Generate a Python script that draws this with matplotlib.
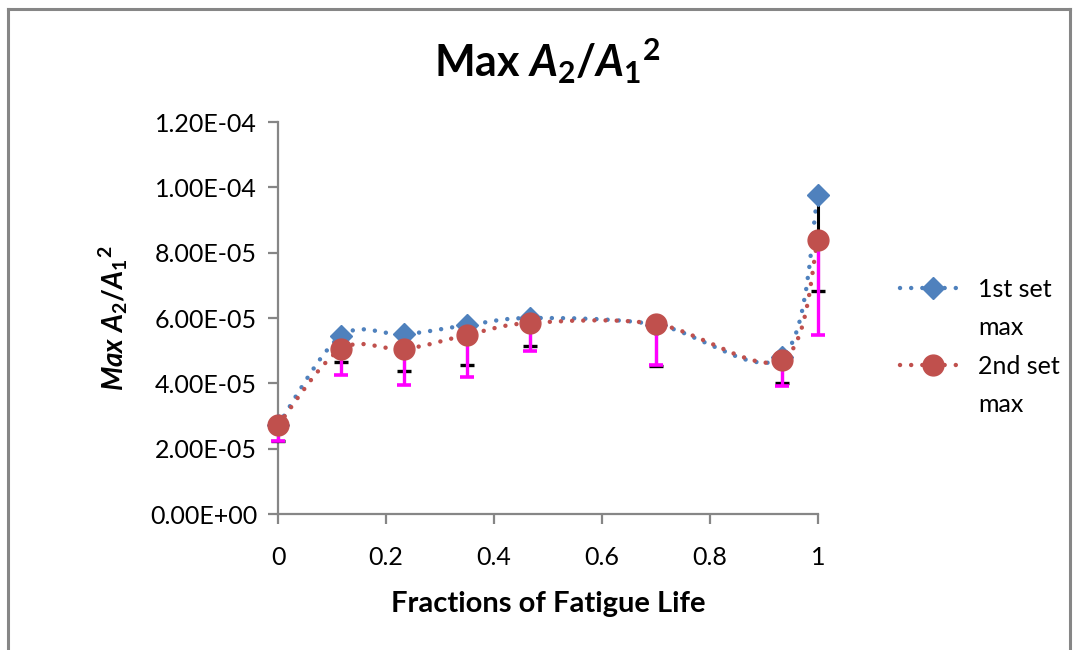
#!/usr/bin/env python
# -*- coding: utf-8 -*-

""" Max A2/A1^2 against fraction of fatigue life """

import numpy as np
import matplotlib
matplotlib.use('Agg')
import matplotlib.pyplot as plt
from matplotlib.path import Path
from matplotlib.patches import PathPatch
from matplotlib.lines import Line2D
from matplotlib.ticker import FuncFormatter

# data
FRACTIONS = [0.0, 0.1167, 0.2333, 0.35, 0.4667, 0.70, 0.9333, 1.0]
SET1_MAX = [2.72e-5, 5.45e-5, 5.50e-5, 5.78e-5, 6.00e-5, 5.80e-5, 4.80e-5, 9.78e-5]
SET2_MAX = [2.72e-5, 5.05e-5, 5.05e-5, 5.48e-5, 5.85e-5, 5.82e-5, 4.71e-5, 8.39e-5]
SET1_ERR = [0.50e-5, 0.80e-5, 1.12e-5, 1.22e-5, 0.86e-5, 1.27e-5, 0.79e-5, 2.94e-5]
SET2_ERR = [0.50e-5, 0.80e-5, 1.10e-5, 1.29e-5, 0.86e-5, 1.26e-5, 0.79e-5, 2.91e-5]
SERIES_NAMES = ['1st set', '2nd set']
NAME_TAIL = 'max'

BLUE = '#4F81BD'
RED = '#C0504D'
MAGENTA = '#FF00FF'
GRAY = '#868686'
FONT = 'Lato'
DOTS = (0, (0.01, 2.5))

plt.rcParams['font.family'] = [FONT, 'DejaVu Sans']
plt.rcParams['mathtext.fontset'] = 'custom'
plt.rcParams['mathtext.it'] = FONT + ':italic:bold'
plt.rcParams['mathtext.rm'] = FONT + ':bold'
plt.rcParams['mathtext.bf'] = FONT + ':bold'


def smooth_path(xs, ys):
    """ Excel-like smoothed line: cubic bezier through the points """
    pts = np.column_stack([xs, ys])
    verts = [pts[0]]
    codes = [Path.MOVETO]
    n = len(pts)
    for i in range(n - 1):
        p0 = pts[max(i - 1, 0)]
        p1 = pts[i]
        p2 = pts[i + 1]
        p3 = pts[min(i + 2, n - 1)]
        c1 = p1 + (p2 - p0) / 6.0
        c2 = p2 - (p3 - p1) / 6.0
        verts += [c1, c2, p2]
        codes += [Path.CURVE4] * 3
    return Path(verts, codes)


def dotted_patch(ax, xs, ys, color):
    patch = PathPatch(smooth_path(xs, ys), facecolor='none', edgecolor=color,
                      linewidth=3.2, linestyle=DOTS,
                      transform=ax.transData, zorder=2, clip_on=False)
    patch.set_capstyle('round')
    ax.add_patch(patch)


fig = plt.figure(figsize=(10.78, 6.5), dpi=100)
ax = fig.add_axes([0.2579, 0.2092, 0.5009, 0.6031])

# outer chart frame
for xs, ys in [([0.0075, 0.0075], [-0.1, 0.986]),
               ([0.0075, 0.9925], [0.986, 0.986]),
               ([0.9925, 0.9925], [0.986, -0.1])]:
    fig.add_artist(Line2D(xs, ys, transform=fig.transFigure, color=GRAY,
                          linewidth=2.2))

# series 1
dotted_patch(ax, FRACTIONS, SET1_MAX, BLUE)
eb1 = ax.errorbar(FRACTIONS, SET1_MAX,
                  yerr=[SET1_ERR, np.zeros(len(SET1_ERR))],
                  fmt='none', ecolor='black', elinewidth=2.2, capsize=5,
                  capthick=2.4, zorder=3)
ax.plot(FRACTIONS, SET1_MAX, linestyle='none', marker='D', markersize=11,
        color=BLUE, zorder=4, clip_on=False)

# series 2
dotted_patch(ax, FRACTIONS, SET2_MAX, RED)
eb2 = ax.errorbar(FRACTIONS, SET2_MAX,
                  yerr=[SET2_ERR, np.zeros(len(SET2_ERR))],
                  fmt='none', ecolor=MAGENTA, elinewidth=2.4, capsize=5,
                  capthick=2.6, zorder=5)
ax.plot(FRACTIONS, SET2_MAX, linestyle='none', marker='o', markersize=15,
        color=RED, zorder=6, clip_on=False)

for eb in (eb1, eb2):
    for art in eb.lines[1] + eb.lines[2]:
        art.set_clip_on(False)

ax.set_xlim(0, 1)
ax.set_ylim(0, 1.2e-4)
ax.set_xticks(np.arange(0, 1.01, 0.2))
ax.set_yticks(np.arange(0, 1.21e-4, 2e-5))
ax.xaxis.set_major_formatter(FuncFormatter(lambda v, p: '%g' % round(v, 2)))
ax.yaxis.set_major_formatter(FuncFormatter(lambda v, p: '%.2E' % v))

for side in ['top', 'right']:
    ax.spines[side].set_visible(False)
for side in ['left', 'bottom']:
    ax.spines[side].set_color(GRAY)
    ax.spines[side].set_linewidth(1.6)
ax.tick_params(axis='both', colors=GRAY, width=1.6, length=7,
               labelcolor='black', labelsize=18)
ax.tick_params(axis='y', pad=8)
ax.tick_params(axis='x', pad=16)

ax.set_title(r'Max $A_{\mathit{2}}/A_{\mathit{1}}{}^{\mathit{2}}$',
             fontsize=31, fontweight='bold', pad=32)
ax.set_xlabel('Fractions of Fatigue Life', fontsize=21, fontweight='bold',
              labelpad=16)
ax.set_ylabel(r'$\mathit{Max}\ A_{2}/A_{1}{}^{2}$', fontsize=20,
              labelpad=14)

# legend: handle on the first line of each two-line name
blank = Line2D([], [], linestyle='none')
handles = [
    Line2D([], [], color=BLUE, linewidth=3.2, linestyle=DOTS,
           dash_capstyle='round', marker='D', markersize=11),
    blank,
    Line2D([], [], color=RED, linewidth=3.2, linestyle=DOTS,
           dash_capstyle='round', marker='o', markersize=15),
    blank,
]
labels = [SERIES_NAMES[0], NAME_TAIL, SERIES_NAMES[1], NAME_TAIL]
fig.legend(handles, labels, loc='center left',
           bbox_to_anchor=(0.826, 0.466), frameon=False, fontsize=18,
           handlelength=2.6, handletextpad=0.5, labelspacing=0.62,
           borderaxespad=0)

fig.savefig('out.png', dpi=100)
plt.close('all')
